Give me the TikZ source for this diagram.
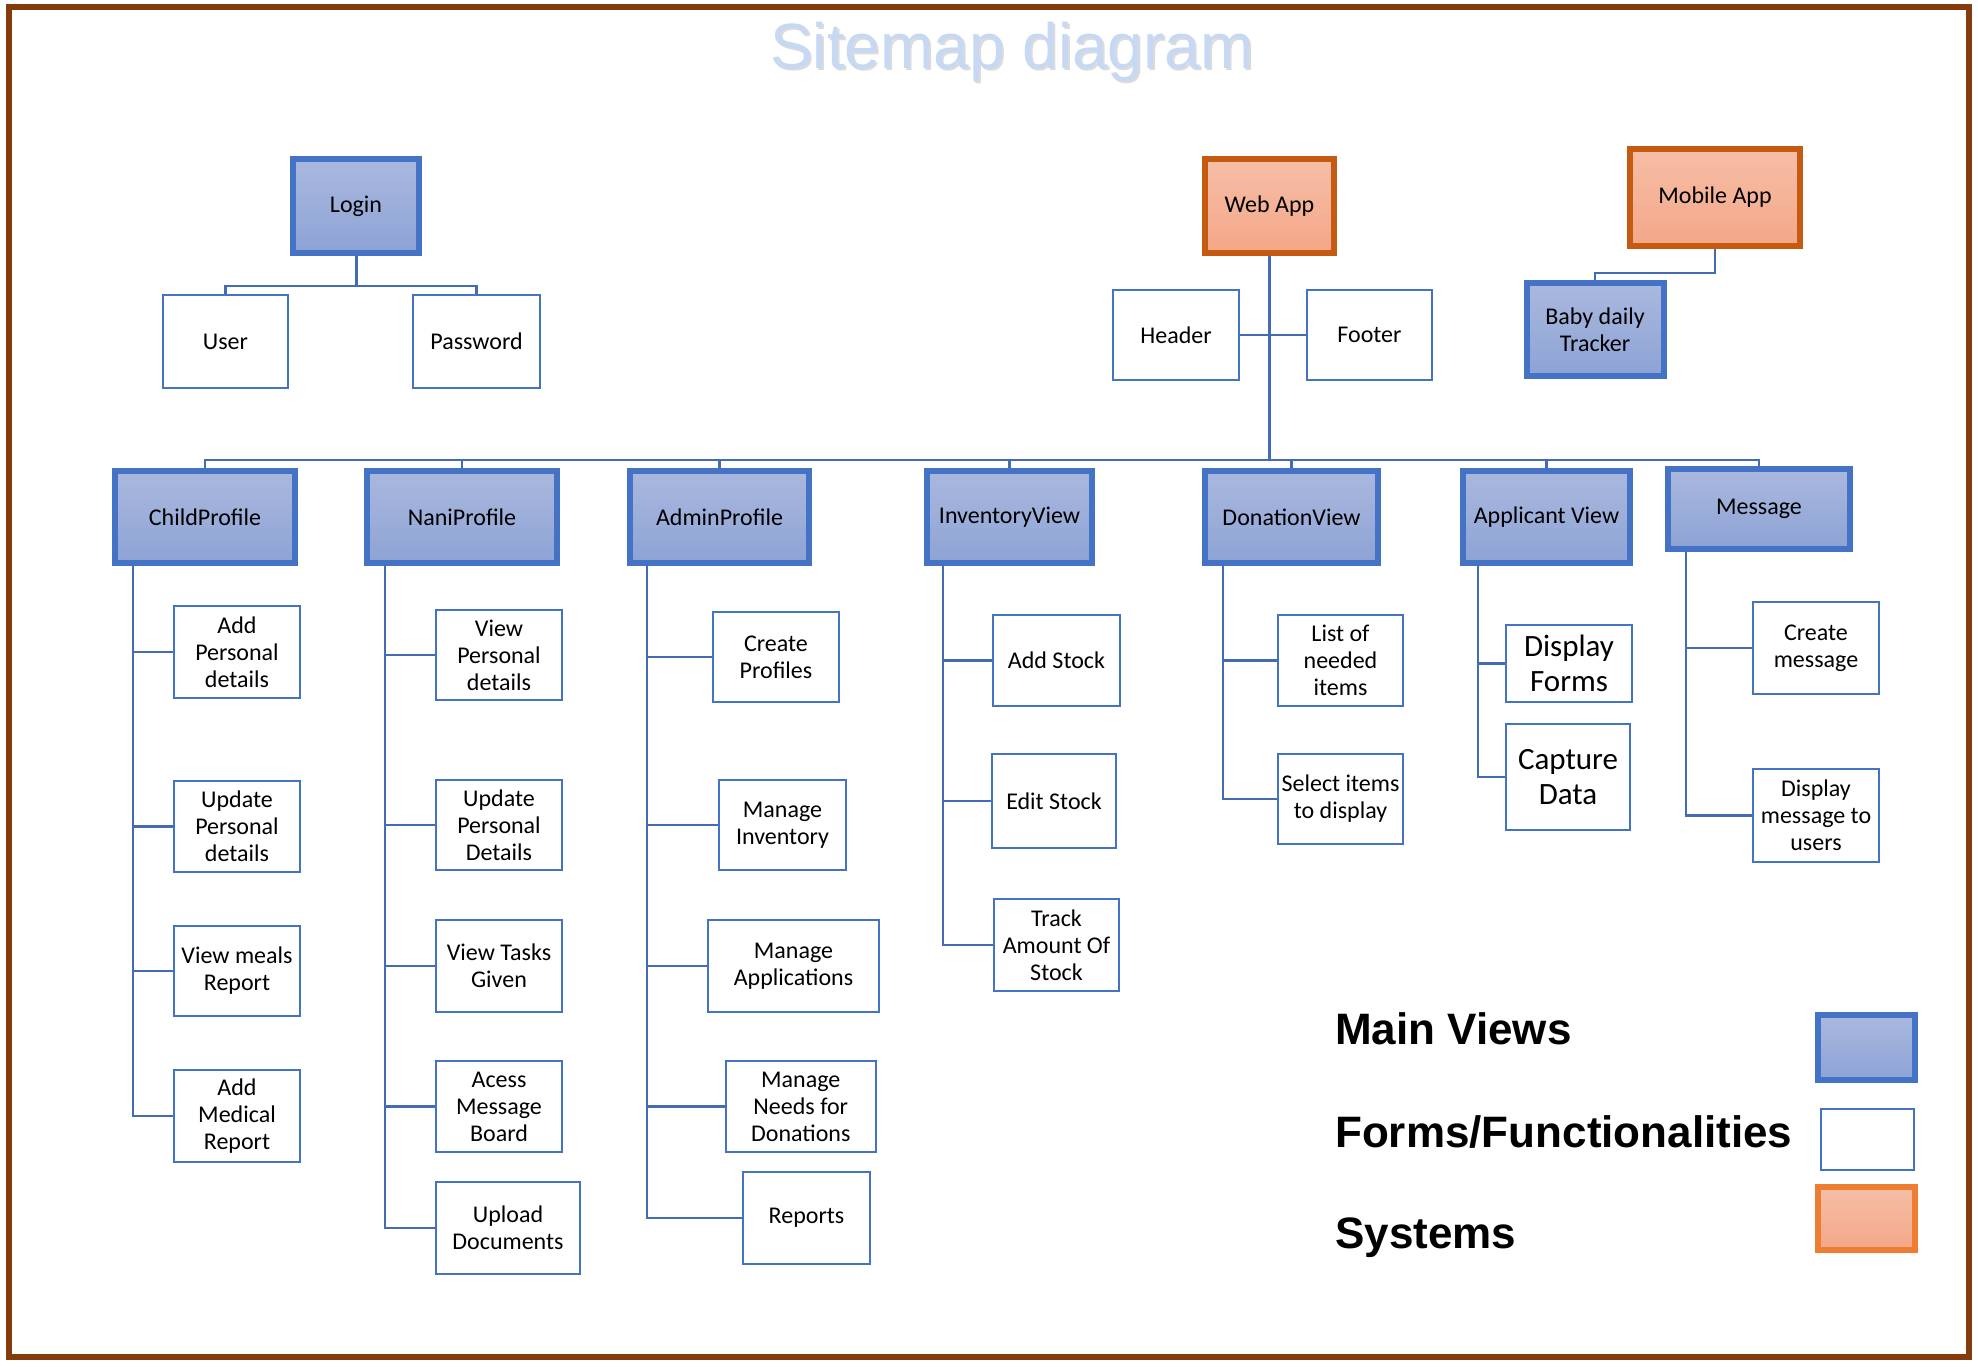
\documentclass[tikz,border=0pt]{standalone}
\usepackage{fontspec}
\setmainfont{Carlito}
\newfontfamily\arialfont{Liberation Sans}
\usetikzlibrary{backgrounds}
\definecolor{frameBrown}{HTML}{843C0C}
\definecolor{viewBlue}{HTML}{4472C4}
\definecolor{viewTop}{RGB}{170,184,222}
\definecolor{viewBot}{RGB}{141,163,213}
\definecolor{sysStroke}{HTML}{C55A11}
\definecolor{sysStrokeLight}{HTML}{ED7D31}
\definecolor{sysTop}{RGB}{246,190,167}
\definecolor{sysBot}{RGB}{243,167,135}
\definecolor{titleBlue}{RGB}{198,216,243}
\definecolor{connBlue}{RGB}{68,108,180}
\tikzset{
  boxtext/.style={font=\fontsize{24}{27}\selectfont, align=center, text=black, inner sep=0pt},
  mainview/.style={boxtext, rectangle, draw=viewBlue, line width=6pt, top color=viewTop, bottom color=viewBot},
  systembox/.style={boxtext, rectangle, draw=sysStroke, line width=6pt, top color=sysTop, bottom color=sysBot},
  formbox/.style={boxtext, rectangle, draw=viewBlue, line width=2pt, fill=white},
  conn/.style={draw=connBlue, line width=2.2pt},
  stem/.style={draw=connBlue, line width=3pt},
  legendtext/.style={font=\arialfont\bfseries\fontsize{44}{50}\selectfont, anchor=base west, inner sep=0pt}
}
\begin{document}
\begin{tikzpicture}[x=1pt,y=-1pt]
\useasboundingbox (0,0) rectangle (1978,1366);

% title
\node[font=\arialfont\fontsize{64}{70}\selectfont, text=black!14, anchor=base, inner sep=0pt] (titleshadow) at (1014,70.5) {Sitemap diagram};
\node[font=\arialfont\fontsize{64}{70}\selectfont, text=titleBlue, anchor=base, inner sep=0pt] (title) at (1012,68) {Sitemap diagram};

% top level
\node[mainview, minimum width=126pt, minimum height=94pt] (login) at (356,206) {Login};
\node[formbox, minimum width=125pt, minimum height=93pt] (user) at (225.5,341.5) {User};
\node[formbox, minimum width=127pt, minimum height=93pt] (password) at (476.5,341.5) {Password};

\node[systembox, minimum width=129pt, minimum height=94pt] (webapp) at (1269.5,206) {Web App};
\node[formbox, minimum width=126pt, minimum height=90pt] (header) at (1176,335) {Header};
\node[formbox, minimum width=125pt, minimum height=90pt] (footer) at (1369.5,335) {Footer};

\node[systembox, minimum width=170pt, minimum height=97pt] (mobileapp) at (1715,197.5) {Mobile App};
\node[mainview, minimum width=137pt, minimum height=93pt] (baby) at (1595,329.5) {Baby daily\\Tracker};

% main views
\node[mainview, minimum width=180pt, minimum height=92pt] (child) at (205,517) {ChildProfile};
\node[mainview, minimum width=190pt, minimum height=92pt] (nani) at (462,517) {NaniProfile};
\node[mainview, minimum width=179pt, minimum height=92pt] (admin) at (719.5,517) {AdminProfile};
\node[mainview, minimum width=165pt, minimum height=92pt] (inventory) at (1009.5,517) {InventoryView};
\node[mainview, minimum width=173pt, minimum height=92pt] (donation) at (1291.5,517) {DonationView};
\node[mainview, minimum width=167pt, minimum height=92pt] (applicant) at (1546.5,517) {Applicant View};
\node[mainview, minimum width=182pt, minimum height=80pt] (message) at (1759,509) {Message};

% child column
\node[formbox, minimum width=126pt, minimum height=92pt] (cp1) at (237,652) {Add\\Personal\\details};
\node[formbox, minimum width=126pt, minimum height=91pt] (cp2) at (237,826.5) {Update\\Personal\\details};
\node[formbox, minimum width=126pt, minimum height=90pt] (cp3) at (237,971) {View meals\\Report};
\node[formbox, minimum width=126pt, minimum height=92pt] (cp4) at (237,1116) {Add\\Medical\\Report};

% nani column
\node[formbox, minimum width=126pt, minimum height=90pt] (np1) at (499,655) {View\\Personal\\details};
\node[formbox, minimum width=126pt, minimum height=90pt] (np2) at (499,825) {Update\\Personal\\Details};
\node[formbox, minimum width=126pt, minimum height=92pt] (np3) at (499,966) {View Tasks\\Given};
\node[formbox, minimum width=126pt, minimum height=91pt] (np4) at (499,1106.5) {Acess\\Message\\Board};
\node[formbox, minimum width=144pt, minimum height=92pt] (np5) at (508,1228) {Upload\\Documents};

% admin column
\node[formbox, minimum width=126pt, minimum height=90pt] (ap1) at (776,657) {Create\\Profiles};
\node[formbox, minimum width=127pt, minimum height=90pt] (ap2) at (782.5,825) {Manage\\Inventory};
\node[formbox, minimum width=171pt, minimum height=92pt] (ap3) at (793.5,966) {Manage\\Applications};
\node[formbox, minimum width=150pt, minimum height=91pt] (ap4) at (800.75,1106.5) {Manage\\Needs for\\Donations};
\node[formbox, minimum width=127pt, minimum height=92pt] (ap5) at (806.5,1218) {Reports};

% inventory column
\node[formbox, minimum width=127pt, minimum height=91pt] (iv1) at (1056.5,660.5) {Add Stock};
\node[formbox, minimum width=124pt, minimum height=94pt] (iv2) at (1054,801) {Edit Stock};
\node[formbox, minimum width=125pt, minimum height=92pt] (iv3) at (1056.5,945) {Track\\Amount Of\\Stock};

% donation column
\node[formbox, minimum width=125pt, minimum height=91pt] (dv1) at (1340.5,660.5) {List of\\needed\\items};
\node[formbox, minimum width=125pt, minimum height=90pt] (dv2) at (1340.5,799) {Select items\\to display};

% applicant column
\node[formbox, font=\fontsize{31}{35}\selectfont, minimum width=126pt, minimum height=77pt] (av1) at (1569,663.5) {Display\\Forms};
\node[formbox, font=\fontsize{31}{35}\selectfont, minimum width=124pt, minimum height=106pt] (av2) at (1568,777) {Capture\\Data};

% message column
\node[formbox, minimum width=126pt, minimum height=92pt] (ms1) at (1816,648) {Create\\message};
\node[formbox, minimum width=126pt, minimum height=93pt] (ms2) at (1816,815.5) {Display\\message to\\users};

% legend
\node[legendtext] (lgmain) at (1335,1044) {Main Views};
\node[legendtext] (lgforms) at (1335,1147) {Forms/Functionalities};
\node[legendtext] (lgsys) at (1335,1248) {Systems};
\node[mainview, minimum width=97pt, minimum height=65pt] (lgmainbox) at (1866,1047.5) {};
\node[formbox, minimum width=93pt, minimum height=61pt] (lgformsbox) at (1867,1139.5) {};
\node[systembox, draw=sysStrokeLight, minimum width=97pt, minimum height=63pt] (lgsysbox) at (1866,1218.5) {};

% coordinates for buses and trunks
\coordinate (loginbus) at (0,286);
\coordinate (mainbus) at (0,460);
\coordinate (mobilebus) at (0,273);
\coordinate (cpx) at (133,0);
\coordinate (npx) at (385,0);
\coordinate (apx) at (647,0);
\coordinate (ivx) at (943,0);
\coordinate (dvx) at (1223,0);
\coordinate (avx) at (1478,0);
\coordinate (msx) at (1686,0);

\begin{pgfonlayer}{background}
\fill[white] (0,0) rectangle (1978,1366);
\draw[frameBrown, line width=6pt] (9,6.5) rectangle (1969,1357);

% login
\draw[stem] (login.south) -- (login.south |- loginbus);
\draw[conn] (user.north) -- (user.north |- loginbus) -- (password.north |- loginbus) -- (password.north);

% web app
\draw[stem] (webapp.south) -- (webapp.south |- mainbus);
\draw[conn] (header.east) -- (footer.west);
\draw[conn] (child.north) -- (child.north |- mainbus) -- (message.north |- mainbus) -- (message.north);
\foreach \v in {nani,admin,inventory,donation,applicant}{
  \draw[conn] (\v.north |- mainbus) -- (\v.north);
}

% mobile app
\draw[conn] (mobileapp.south) -- (mobileapp.south |- mobilebus) -- (baby.north |- mobilebus) -- (baby.north);

% trunks
\draw[conn] (child.south -| cpx) -- (cp4.west -| cpx) -- (cp4.west);
\foreach \c in {cp1,cp2,cp3}{ \draw[conn] (\c.west -| cpx) -- (\c.west); }
\draw[conn] (nani.south -| npx) -- (np5.west -| npx) -- (np5.west);
\foreach \c in {np1,np2,np3,np4}{ \draw[conn] (\c.west -| npx) -- (\c.west); }
\draw[conn] (admin.south -| apx) -- (ap5.west -| apx) -- (ap5.west);
\foreach \c in {ap1,ap2,ap3,ap4}{ \draw[conn] (\c.west -| apx) -- (\c.west); }
\draw[conn] (inventory.south -| ivx) -- (iv3.west -| ivx) -- (iv3.west);
\foreach \c in {iv1,iv2}{ \draw[conn] (\c.west -| ivx) -- (\c.west); }
\draw[conn] (donation.south -| dvx) -- (dv2.west -| dvx) -- (dv2.west);
\draw[conn] (dv1.west -| dvx) -- (dv1.west);
\draw[conn] (applicant.south -| avx) -- (av2.west -| avx) -- (av2.west);
\draw[conn] (av1.west -| avx) -- (av1.west);
\draw[conn] (message.south -| msx) -- (ms2.west -| msx) -- (ms2.west);
\draw[conn] (ms1.west -| msx) -- (ms1.west);
\end{pgfonlayer}
\end{tikzpicture}
\end{document}
